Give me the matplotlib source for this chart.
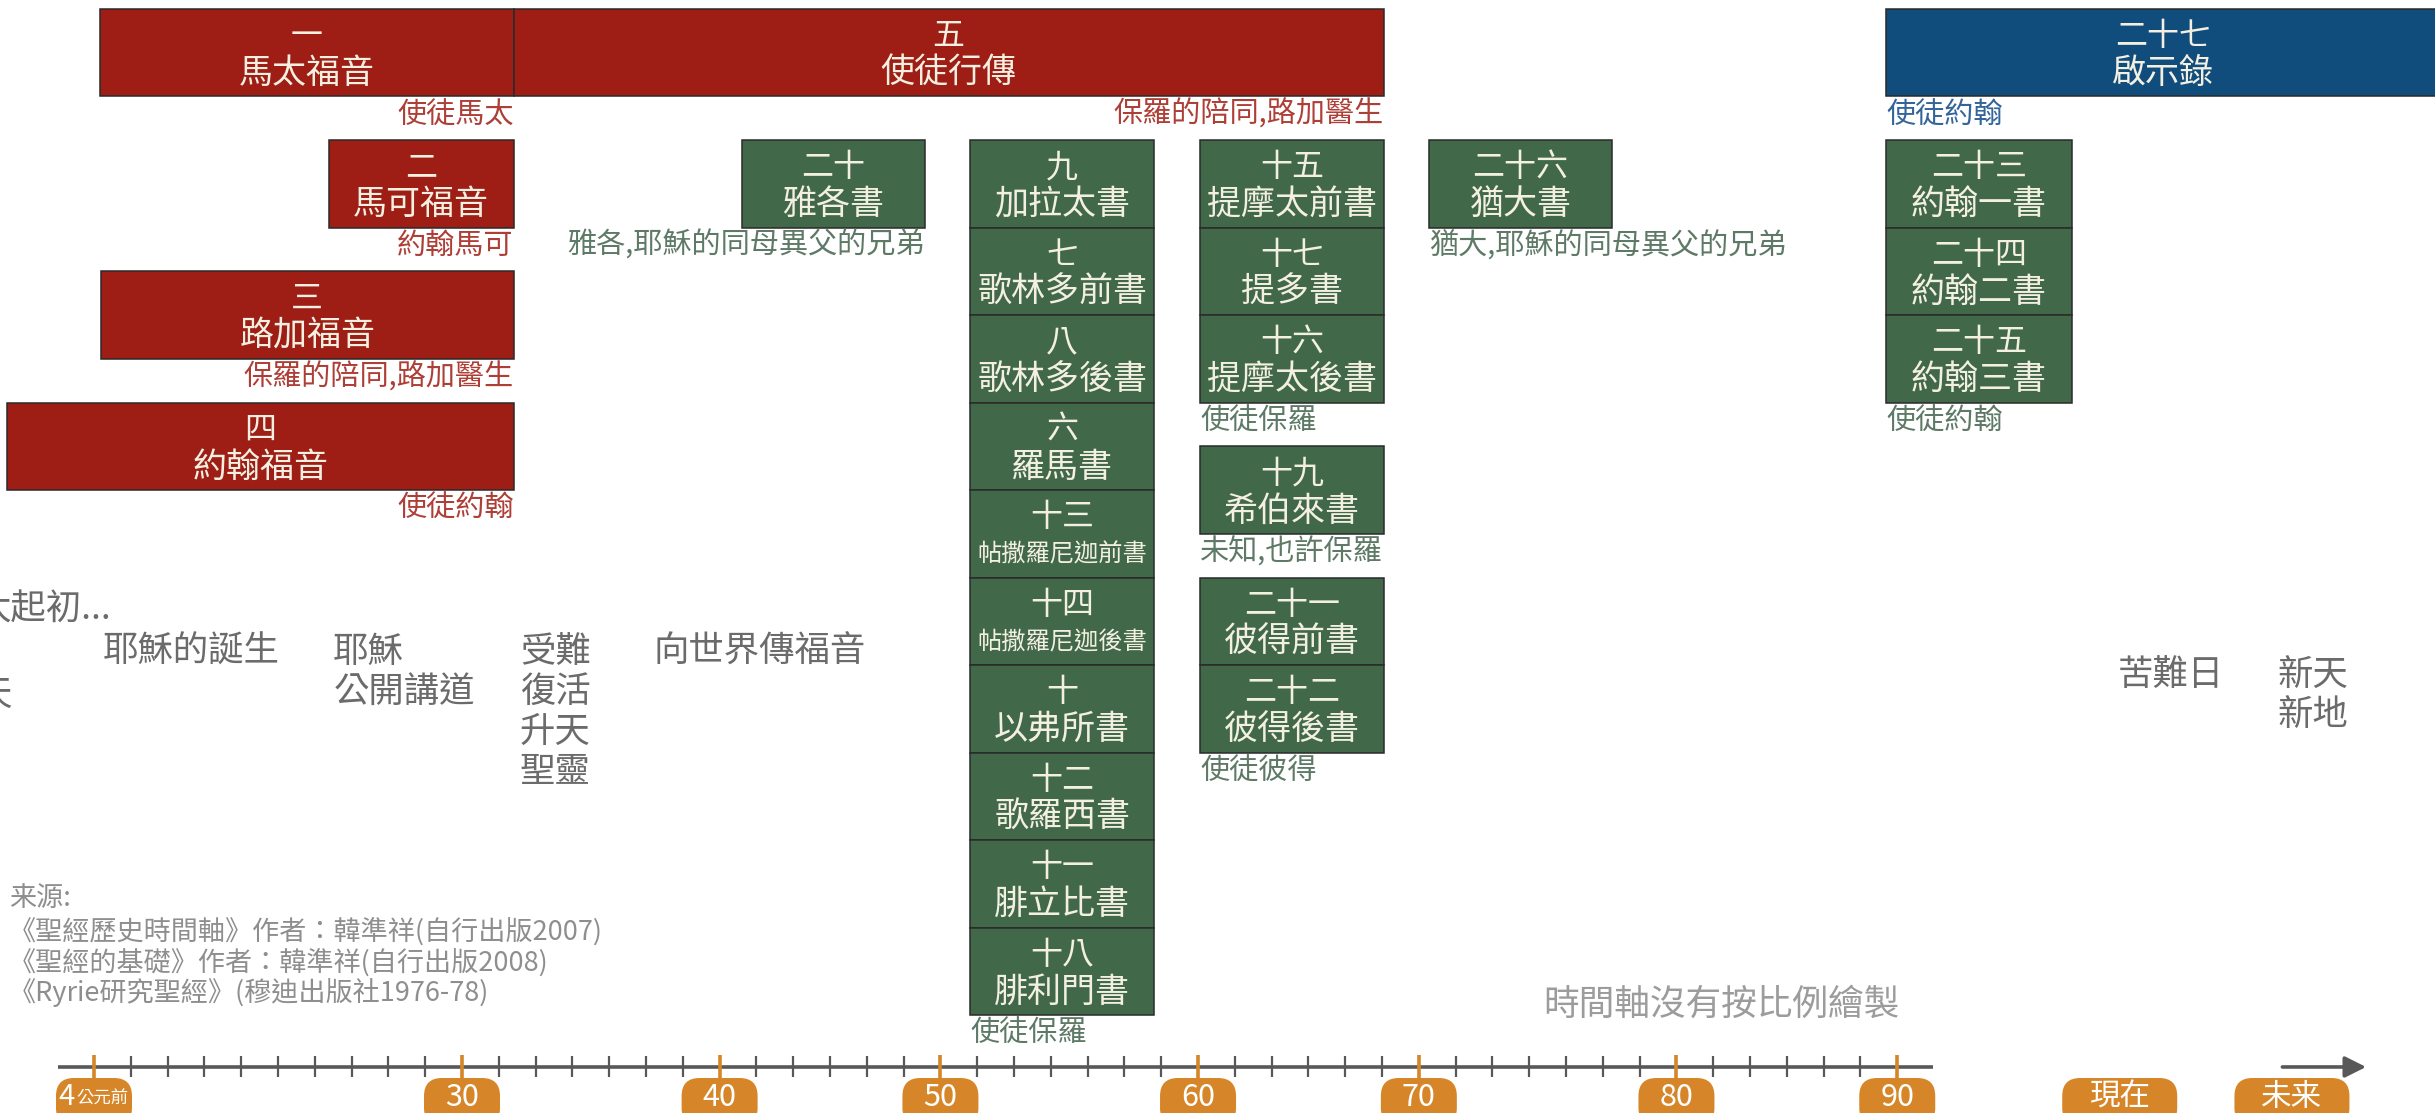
import numpy as np
import matplotlib
matplotlib.use('Agg')
import matplotlib.pyplot as plt
from matplotlib.patches import FancyBboxPatch
from matplotlib.transforms import IdentityTransform

plt.rcParams['font.family'] = ['Noto Sans CJK TC', 'DejaVu Sans']
plt.rcParams['font.weight'] = 'light'

# ---------------- data ----------------
# labelled years on the ruler and the ruler slot each sits on (timeline is not to scale)
tick_years = [-4, 30, 40, 50, 60, 70, 80, 90]
tick_slots = [0, 10, 17, 23, 30, 36, 43, 49]
tick_labels = ['4', '30', '40', '50', '60', '70', '80', '90']
era_labels = ['現在', '未来']
era_years = [99.3, 106.5]

book_nums = ['一', '二', '三', '四', '五', '二十',
             '九', '七', '八', '六', '十三', '十四', '十', '十二', '十一', '十八',
             '十五', '十七', '十六', '十九', '二十一', '二十二',
             '二十六', '二十三', '二十四', '二十五', '二十七']
book_names = ['馬太福音', '馬可福音', '路加福音', '約翰福音', '使徒行傳', '雅各書',
              '加拉太書', '歌林多前書', '歌林多後書', '羅馬書', '帖撒羅尼迦前書', '帖撒羅尼迦後書',
              '以弗所書', '歌羅西書', '腓立比書', '腓利門書',
              '提摩太前書', '提多書', '提摩太後書', '希伯來書', '彼得前書', '彼得後書',
              '猶大書', '約翰一書', '約翰二書', '約翰三書', '啟示錄']
book_start = [-3.45, 17.7, -3.35, -12.0, 32.0, 41.0] + [51.15] * 10 + [60.1] * 6 + [70.4] + [89.5] * 3 + [89.5]
book_end = [32.0, 32.0, 32.0, 32.0, 68.4, 49.3] + [58.3] * 10 + [68.4] * 6 + [77.5] + [97.3] * 3 + [112.7]
book_row = [-1.5, 0, 1.5, 3, -1.5, 0,
            0, 1, 2, 3, 4, 5, 6, 7, 8, 9,
            0, 1, 2, 3.5, 5, 6,
            0, 0, 1, 2, -1.5]
book_kind = ['gospel'] * 5 + ['letter'] * 21 + ['prophecy']

note_text = ['使徒馬太', '約翰馬可', '保羅的陪同,路加醫生', '使徒約翰', '保羅的陪同,路加醫生',
             '雅各,耶穌的同母異父的兄弟', '使徒保羅', '使徒保羅', '未知,也許保羅', '使徒彼得',
             '猶大,耶穌的同母異父的兄弟', '使徒約翰', '使徒約翰']
note_book = [0, 1, 2, 3, 4, 5, 15, 18, 19, 21, 22, 25, 26]
note_align = ['right'] * 6 + ['left'] * 7

event_texts = ['耶穌的誕生', '耶穌\n公開講道', '受難\n復活\n升天\n聖靈', '向世界傳福音', '苦難日', '新天\n新地']
event_years = [-3.2, 18.1, 32.25, 37.45, 99.2, 105.9]
event_rows = [5.85, 5.85, 5.85, 5.85, 6.11, 6.11]

source_lines = ['来源:',
                '《聖經歷史時間軸》作者：韓準祥(自行出版2007)',
                '《聖經的基礎》作者：韓準祥(自行出版2008)',
                '《Ryrie研究聖經》(穆迪出版社1976-78)']

# ---------------- styles ----------------
FILL = {'gospel': '#9E1D15', 'letter': '#42684A', 'prophecy': '#104C7C'}
NOTE = {'gospel': '#AE3F37', 'letter': '#5E7A66', 'prophecy': '#34659A'}
BOX_TEXT = '#F3F0E2'
ORANGE = '#D68628'
AXIS = '#585858'

# piecewise-linear (not to scale) timeline mapping year -> ruler slot
PRE, POST = 10 / 34, 0.65
YRS = np.array([-200.0] + tick_years + [400.0])
SLT = np.array([tick_slots[0] - 196 * PRE] + tick_slots + [tick_slots[-1] + 310 * POST], dtype=float)


def fwd(x):
    return np.interp(x, YRS, SLT)


def inv(s):
    return np.interp(s, SLT, YRS)


W, H = 2435, 1113
fig = plt.figure(figsize=(W / 100, H / 100), dpi=100)
ax = fig.add_axes([0, 0, 1, 1])
ax.set_xscale('function', functions=(fwd, inv))
ax.set_xlim(-12.684, 112.48)
ax.set_ylim(11.12, -1.6)
ax.axis('off')

# ---------------- book boxes ----------------
for num, name, s, e, r, k in zip(book_nums, book_names, book_start, book_end, book_row, book_kind):
    ax.barh(r + 0.5, e - s, left=s, height=1.0, color=FILL[k], edgecolor='#2a2a2a',
            linewidth=1.1, zorder=2)
    cx = inv((fwd(s) + fwd(e)) / 2)
    ax.text(cx, r + 0.31, num, ha='center', va='center', color=BOX_TEXT, fontsize=23, zorder=3)
    fs = 17.5 if len(name) > 5 else 24.5
    ax.text(cx, r + 0.74, name, ha='center', va='center', color=BOX_TEXT, fontsize=fs, zorder=3)

for txt, bi, al in zip(note_text, note_book, note_align):
    k = book_kind[bi]
    x = book_end[bi] if al == 'right' else book_start[bi]
    ax.text(x, book_row[bi] + 1.21, txt, ha=al, va='center', color=NOTE[k], fontsize=21, zorder=3)

# ---------------- events ----------------
EV = '#6B6B6B'
ax.text(-14.9, 5.37, '太起初...', ha='left', va='center', color=EV, fontsize=25.5, clip_on=False)
ax.text(-14.9, 6.34, '天', ha='left', va='center', color=EV, fontsize=25.5, clip_on=False)
for txt, x, r in zip(event_texts, event_years, event_rows):
    for i, line in enumerate(txt.split('\n')):
        ax.text(x, r + i * 0.457, line, ha='left', va='center', color=EV, fontsize=25.5)

# ---------------- sources & remark ----------------
src_y = [898, 932, 963, 993]
for line, py in zip(source_lines, src_y):
    fig.text(9 / W, 1 - py / H, line, ha='left', va='center', color='#8E8E8E', fontsize=19.5)
fig.text(1899 / W, 1 - 1005 / H, '時間軸沒有按比例繪製', ha='right', va='center',
         color='#9C9C9C', fontsize=25.7)

# ---------------- ruler ----------------
AX_Y = 10.594
ax.plot([inv(-0.978), inv(49.97)], [AX_Y, AX_Y], color=AXIS, lw=2.6, solid_capstyle='butt', zorder=2)
minor = [inv(i) for i in range(0, 50) if i not in tick_slots]
ax.vlines(minor, 10.47, 10.71, color=AXIS, lw=1.6, zorder=2)
ax.vlines(tick_years, 10.46, 10.74, color=ORANGE, lw=2.6, zorder=3)
ax.annotate('', xy=(109.6, AX_Y), xytext=(106.1, AX_Y),
            arrowprops=dict(arrowstyle='-|>', color=AXIS, lw=2.6, mutation_scale=32,
                            shrinkA=0, shrinkB=0), zorder=3)


def pill(year, width_px):
    x = ax.transData.transform((year, 0))[0]
    top = ax.transData.transform((year, 10.72))[1]
    p = FancyBboxPatch((x - width_px / 2, top - 48), width_px, 48,
                       boxstyle='round,pad=0,rounding_size=18',
                       transform=IdentityTransform(), fc=ORANGE, ec='none', zorder=4,
                       clip_on=False)
    ax.add_artist(p)


PILL_Y = 10.94
for yv, lab in zip(tick_years, tick_labels):
    pill(yv, 76)
    if yv == -4:
        ax.annotate(lab, xy=(yv, PILL_Y), xytext=(-19, 0), textcoords='offset pixels',
                    ha='right', va='center', color='white', fontsize=21, zorder=6)
        ax.annotate('公元前', xy=(yv, PILL_Y + 0.02), xytext=(-18, 0), textcoords='offset pixels',
                    ha='left', va='center', color='white', fontsize=12.5, zorder=6)
    else:
        ax.text(yv, PILL_Y, lab, ha='center', va='center', color='white', fontsize=22, zorder=6)

for yv, lab in zip(era_years, era_labels):
    pill(yv, 115)
    ax.text(yv, PILL_Y, lab, ha='center', va='center', color='white', fontsize=22, zorder=6)

fig.savefig('out.png', dpi=100)
